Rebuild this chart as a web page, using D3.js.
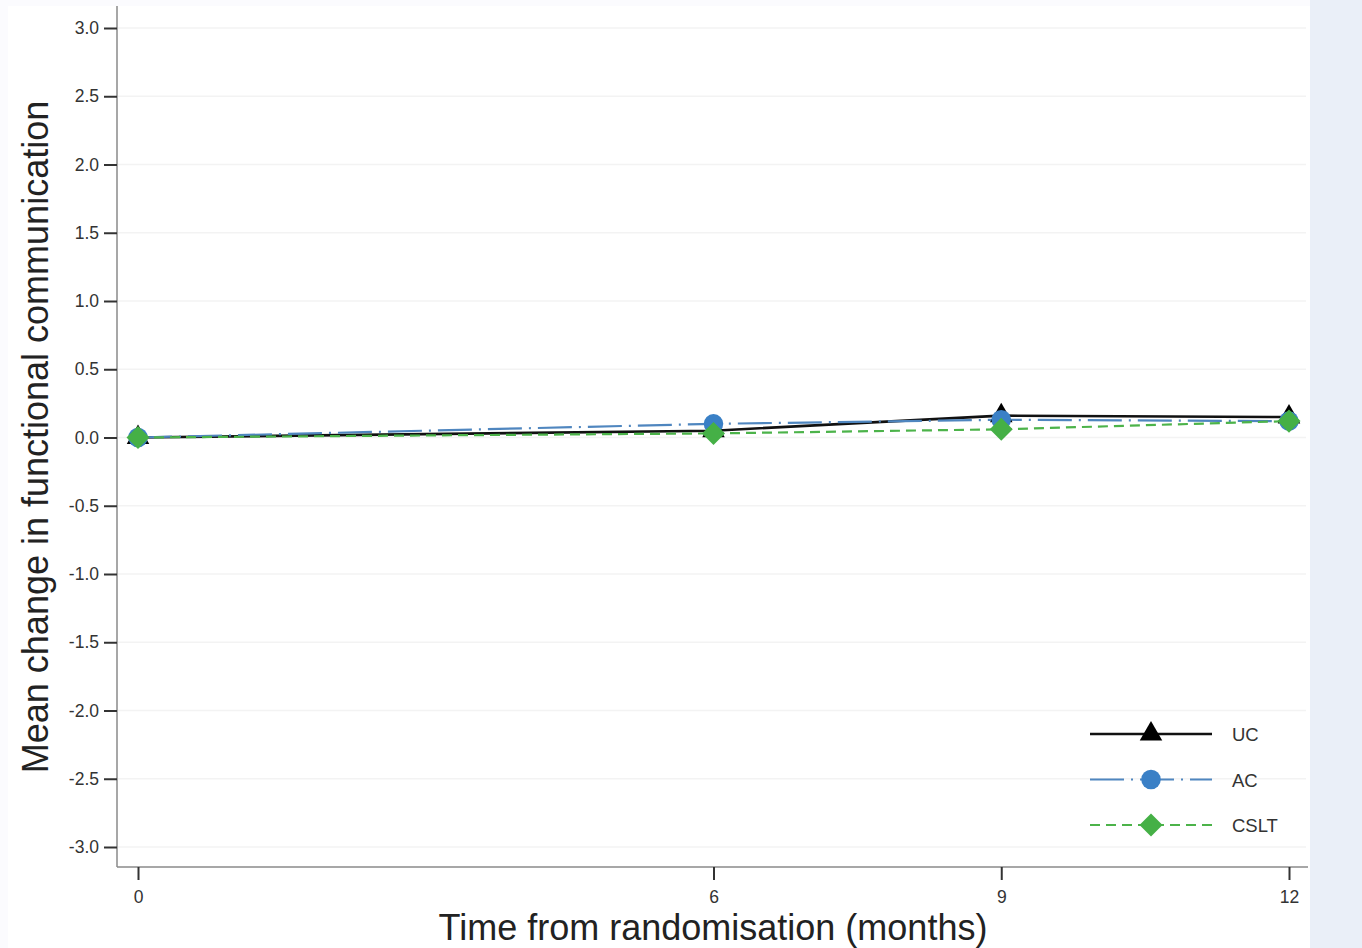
<!DOCTYPE html>
<html>
<head>
<meta charset="utf-8">
<script src="https://cdn.jsdelivr.net/npm/d3@7"></script>
<style>
  body { margin: 0; background: #fff; }
  svg { display: block; font-family: "Liberation Sans", Arial, sans-serif; }
</style>
</head>
<body>
<div id="chart"></div>
<script>
const months = [0, 6, 9, 12];
const ucValues = [0.0, 0.05, 0.16, 0.15];
const acValues = [0.0, 0.10, 0.13, 0.12];
const csltValues = [0.0, 0.03, 0.06, 0.12];
const yTicks = [3.0, 2.5, 2.0, 1.5, 1.0, 0.5, 0.0, -0.5, -1.0, -1.5, -2.0, -2.5, -3.0];
const seriesNames = ['UC', 'AC', 'CSLT'];

function drawChart() {
    const W = 1362, H = 948;

    const x = d3.scaleLinear().domain([0, 12]).range([138, 1289]);
    const y = d3.scaleLinear().domain([-3, 3]).range([847, 28]);

    const svg = d3.select('#chart').append('svg')
      .attr('width', W)
      .attr('height', H);

    // outer backgrounds
    svg.append('rect').attr('x', 0).attr('y', 0).attr('width', W).attr('height', H).attr('fill', '#fbfbfe');
    svg.append('rect').attr('x', 8).attr('y', 6).attr('width', 1302).attr('height', H - 6).attr('fill', '#ffffff');
    svg.append('rect').attr('x', 1310).attr('y', 0).attr('width', W - 1310).attr('height', H).attr('fill', '#eaeff8');

    // gridlines
    svg.append('g')
      .selectAll('line')
      .data(yTicks)
      .join('line')
      .attr('x1', 118).attr('x2', 1306)
      .attr('y1', d => y(d)).attr('y2', d => y(d))
      .attr('stroke', '#f3f3f3')
      .attr('stroke-width', 1.5);

    const fmt = d => d3.format('.1f')(d).replace('\u2212', '-');

    // y axis
    const yAxis = svg.append('g')
      .attr('transform', 'translate(117,0)')
      .call(d3.axisLeft(y).tickValues(yTicks).tickFormat(fmt).tickSize(13).tickPadding(5));
    yAxis.select('.domain').attr('d', 'M0,6V867').attr('stroke', '#8a8a8a').attr('stroke-width', 1.5);
    yAxis.selectAll('.tick line').attr('stroke', '#333').attr('stroke-width', 2);
    yAxis.selectAll('.tick text').attr('font-size', 17.5).attr('fill', '#333');

    // x axis
    const xAxis = svg.append('g')
      .attr('transform', 'translate(0,867)')
      .call(d3.axisBottom(x).tickValues(months).tickFormat(d3.format('d')).tickSize(13).tickPadding(11));
    xAxis.select('.domain').attr('d', 'M117,0H1308').attr('stroke', '#8a8a8a').attr('stroke-width', 1.5);
    xAxis.selectAll('.tick line').attr('stroke', '#333').attr('stroke-width', 2);
    xAxis.selectAll('.tick text').attr('font-size', 17.5).attr('fill', '#333');

    // axis titles
    svg.append('text')
      .attr('transform', 'translate(48,437) rotate(-90)')
      .attr('text-anchor', 'middle')
      .attr('font-size', 36)
      .attr('fill', '#222')
      .text('Mean change in functional communication');

    svg.append('text')
      .attr('x', 713).attr('y', 940)
      .attr('text-anchor', 'middle')
      .attr('font-size', 36)
      .attr('fill', '#222')
      .text('Time from randomisation (months)');

    const series = [
      { name: 'UC', values: ucValues, stroke: '#111', width: 2.6, dash: null, fill: '#000', shape: d3.symbolTriangle, size: 220, rot: 0 },
      { name: 'AC', values: acValues, stroke: '#4f86bf', width: 2.2, dash: '34,7,2,7', fill: '#3a80c6', shape: d3.symbolCircle, size: 300, rot: 0 },
      { name: 'CSLT', values: csltValues, stroke: '#4cb34a', width: 2.2, dash: '10,6', fill: '#45b046', shape: d3.symbolSquare, size: 265, rot: 45 }
    ];

    const line = d3.line()
      .x((d, i) => x(months[i]))
      .y(d => y(d));

    series.forEach(s => {
      svg.append('path')
        .datum(s.values)
        .attr('fill', 'none')
        .attr('stroke', s.stroke)
        .attr('stroke-width', s.width)
        .attr('stroke-dasharray', s.dash)
        .attr('d', line);
    });

    series.forEach(s => {
      svg.append('g')
        .selectAll('path')
        .data(s.values)
        .join('path')
        .attr('transform', (d, i) => `translate(${x(months[i])},${y(d)}) rotate(${s.rot})`)
        .attr('d', d3.symbol().type(s.shape).size(s.size))
        .attr('fill', s.fill);
    });

    // legend
    const legend = svg.append('g').attr('transform', 'translate(1090,734)');
    series.forEach((s, i) => {
      const g = legend.append('g').attr('transform', `translate(0,${i * 45.5})`);
      g.append('line')
        .attr('x1', 0).attr('x2', 122)
        .attr('stroke', s.stroke)
        .attr('stroke-width', s.width)
        .attr('stroke-dasharray', s.dash);
      g.append('path')
        .attr('transform', `translate(61,0) rotate(${s.rot})`)
        .attr('d', d3.symbol().type(s.shape).size(s.size))
        .attr('fill', s.fill);
      g.append('text')
        .attr('x', 142).attr('y', 7)
        .attr('font-size', 18.5)
        .attr('fill', '#333')
        .text(seriesNames[i]);
    });
}

drawChart();
</script>
</body>
</html>
